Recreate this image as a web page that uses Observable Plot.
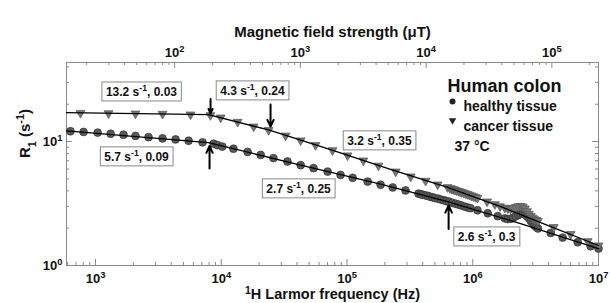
<!DOCTYPE html>
<html><head><meta charset="utf-8">
<script src="https://cdn.jsdelivr.net/npm/d3@7"></script>
<script src="https://cdn.jsdelivr.net/npm/@observablehq/plot@0.6"></script>
<style>
body{margin:0;background:#fff;}
#chart{width:610px;height:303px;overflow:hidden;}
</style></head><body><div id="chart"></div>
<script>
// ---- data ----
const healthyFreq = [632,804,1040,1320,1670,2080,2640,3410,4330,5500,7100,8700,9350,10200,12500,16200,20600,26000,33600,42800,54200,70100,88900,111000,146000,185000,231000,292000,
  370000,385000,400000,420000,440000,460000,480000,500000,530000,560000,590000,620000,650000,690000,730000,770000,810000,860000,910000,960000,
  1090000,1316000,1580000,
  1800000,1900000,2000000,2100000,2200000,2300000,2400000,2500000,2600000,2700000,2800000,2900000,3000000,3100000,3200000,3300000,
  4170000,5190000,6830000,8660000,10000000];
const healthyR1 = [12.1,11.95,11.8,11.55,11.35,11.1,10.85,10.6,10.4,10.15,9.85,9.6,9.35,9.1,8.75,8.25,7.8,7.35,6.9,6.45,6.1,5.72,5.38,5.1,4.75,4.48,4.26,4.03,
  3.80,3.76,3.72,3.68,3.64,3.58,3.55,3.50,3.46,3.40,3.36,3.30,3.27,3.20,3.15,3.10,3.05,2.99,2.94,2.90,
  2.79,2.64,2.50,
  2.40,2.37,2.38,2.43,2.50,2.56,2.60,2.62,2.58,2.50,2.40,2.28,2.18,2.10,2.04,1.99,
  1.83,1.68,1.54,1.43,1.37];

const cancerFreq = [760,1270,2080,3410,5700,8200,9900,13500,18100,23800,32500,42800,56200,76700,101000,135000,178000,244000,321000,422000,526000,631000,
  660000,680000,700000,720000,745000,770000,795000,820000,850000,880000,910000,940000,975000,1010000,1050000,1090000,
  1300000,1500000,1650000,
  1800000,1900000,2000000,2100000,2200000,2300000,2400000,2500000,2600000,2700000,2800000,2900000,3000000,3100000,3200000,3300000,
  4400000,6000000,8200000,10000000];
const cancerR1 = [17.0,16.9,16.8,16.7,16.5,16.3,15.6,14.4,13.2,12.35,11.15,10.2,9.35,8.5,7.72,7.02,6.38,5.72,5.22,4.82,4.5,4.28,
  4.20,4.16,4.11,4.08,4.03,3.99,3.94,3.90,3.85,3.80,3.76,3.71,3.66,3.61,3.56,3.51,
  3.28,3.12,3.00,
  2.92,2.88,2.86,2.90,2.96,3.00,3.02,2.98,2.88,2.74,2.60,2.50,2.42,2.36,2.32,2.28,
  2.04,1.79,1.57,1.45];

const healthyFitFreq = [588,7900,42800,185000,631000,2400000,10000000];
const healthyFitR1   = [12.2,9.8,6.46,4.54,3.28,2.18,1.37];
const cancerFitFreq  = [588,7900,23800,74000,222000,631000,1670000,4170000,10000000];
const cancerFitR1    = [17.1,16.5,12.4,8.6,5.95,4.26,2.99,2.06,1.45];

const annotText = ["13.2 s\u207B\u00B9, 0.03","4.3 s\u207B\u00B9, 0.24","5.7 s\u207B\u00B9, 0.09","3.2 s\u207B\u00B9, 0.35","2.7 s\u207B\u00B9, 0.25","2.6 s\u207B\u00B9, 0.3"];
const annotFreq = [2320,17700,2120,181000,41200,1290000];
const annotR1   = [24.8,25.3,7.43,10.0,4.10,1.68];

const arrowFreq = [8220,24660,8070,642700];
const arrowFromR1 = [22.0,19.9,6.06,1.97];
const arrowToR1   = [16.9,13.2,9.2,3.05];

const xTickHz = [1e3,1e4,1e5,1e6,1e7];
const topTickMicroT = [1e2,1e3,1e4,1e5];
const yTicks = [1,10];
const HZ_PER_MICROT = 42.577;

// ---- layout ----
const W=610,H=303,mL=66,mR=12,mT=62,mB=38;
const pw=W-mL-mR, ph=H-mT-mB;
const xDomain=[588,1e7], yDomain=[1,43.4];

const supDigits="\u2070\u00B9\u00B2\u00B3\u2074\u2075\u2076\u2077\u2078\u2079";
const sup = n => String(n).split("").map(c=>supDigits[+c]).join("");
const pow10 = v => "10"+sup(Math.round(Math.log10(v)));

const xMinor=[], topMinorHz=[], yMinor=[];
for (const d of [100,1000,10000,100000,1000000]) for (let m=2;m<=9;m++){const v=d*m; if(v>=xDomain[0]&&v<=xDomain[1]) xMinor.push(v);}
for (const d of [10,100,1000,10000,100000]) for (let m=2;m<=9;m++){const v=d*m*HZ_PER_MICROT; if(v>=xDomain[0]&&v<=xDomain[1]) topMinorHz.push(v);}
for (const d of [1,10]) for (let m=2;m<=9;m++){const v=d*m; if(v<=yDomain[1]) yMinor.push(v);}
const topMajorHz = topTickMicroT.map(v=>v*HZ_PER_MICROT);

const healthy = healthyFreq.map((f,i)=>({f, r:healthyR1[i]}));
const cancer = cancerFreq.map((f,i)=>({f, r:cancerR1[i]}));
const healthyFit = healthyFitFreq.map((f,i)=>({f, r:healthyFitR1[i]}));
const cancerFit = cancerFitFreq.map((f,i)=>({f, r:cancerFitR1[i]}));
const annots = annotText.map((t,i)=>({t, f:annotFreq[i], r:annotR1[i]}));
const arrows = arrowFreq.map((f,i)=>({f, r1:arrowFromR1[i], r2:arrowToR1[i]}));

const triangleDown = {draw(ctx, size){
  const a=Math.sqrt(4*size/Math.sqrt(3)), h=a*Math.sqrt(3)/2;
  ctx.moveTo(-a/2,-h/3); ctx.lineTo(a/2,-h/3); ctx.lineTo(0,2*h/3); ctx.closePath();
}};

const tickColor="#8a8a8a";
const svg = Plot.plot({
  width:W, height:H, marginLeft:mL, marginRight:mR, marginTop:mT, marginBottom:mB,
  style:{fontFamily:"'Liberation Sans', Arial, sans-serif", fontSize:"13px", color:"#111", background:"#fff"},
  x:{type:"log", domain:xDomain},
  y:{type:"log", domain:yDomain},
  marks:[
    Plot.frame({stroke:tickColor}),
    Plot.ruleX(xMinor,{x:d=>d, insetTop:ph-3, stroke:tickColor}),
    Plot.ruleX(xTickHz,{x:d=>d, insetTop:ph-6, stroke:tickColor}),
    Plot.ruleX(topMinorHz,{x:d=>d, insetBottom:ph-3, stroke:tickColor}),
    Plot.ruleX(topMajorHz,{x:d=>d, insetBottom:ph-6, stroke:tickColor}),
    Plot.ruleY(yMinor,{y:d=>d, insetRight:pw-3, stroke:tickColor}),
    Plot.ruleY(yTicks,{y:d=>d, insetRight:pw-6, stroke:tickColor}),
    Plot.ruleY(yMinor,{y:d=>d, insetLeft:pw-3, stroke:tickColor}),
    Plot.ruleY(yTicks,{y:d=>d, insetLeft:pw-6, stroke:tickColor}),
    Plot.axisX({anchor:"bottom", ticks:xTickHz, tickFormat:pow10, tickSize:0, tickPadding:8, fontSize:13, fontWeight:"bold", label:null}),
    Plot.text(topMajorHz,{x:d=>d, text:d=>pow10(d/HZ_PER_MICROT), frameAnchor:"top", dy:-15, fontSize:13, fontWeight:"bold", fill:"#111"}),
    Plot.axisY({anchor:"left", ticks:yTicks, tickFormat:pow10, tickSize:0, tickPadding:4, fontSize:13, fontWeight:"bold", label:null}),
    Plot.text(["Magnetic field strength (\u03BCT)"],{frameAnchor:"top", dy:-36, fontSize:15, fontWeight:"bold", fill:"#111"}),
    Plot.text(["\u00B9H Larmor frequency (Hz)"],{frameAnchor:"bottom", dy:33, fontSize:14.5, fontWeight:"bold", fill:"#111"}),
    Plot.text(["R\u2081 (s\u207B\u00B9)"],{frameAnchor:"left", dx:-41, dy:-6, rotate:-90, fontSize:15, fontWeight:"bold", fill:"#111"}),
    Plot.dot(healthy,{x:"f", y:"r", r:3.9, fill:"#585858", stroke:"#333", strokeWidth:0.7}),
    Plot.dot(cancer,{x:"f", y:"r", r:3.3, symbol:triangleDown, fill:"#777", stroke:"#555", strokeWidth:0.7}),
    Plot.line(healthyFit,{x:"f", y:"r", stroke:"#000", strokeWidth:1.3}),
    Plot.line(cancerFit,{x:"f", y:"r", stroke:"#000", strokeWidth:1.3}),
    Plot.arrow(arrows,{x:"f", y1:"r1", y2:"r2", stroke:"#000", strokeWidth:2, headLength:7, headAngle:50}),
    Plot.text(annots,{x:"f", y:"r", text:"t", fontSize:12, fontWeight:"bold", fill:"#111"}),
    Plot.text(["Human colon"],{frameAnchor:"top-left", dx:381, dy:17, textAnchor:"start", fontSize:18, fontWeight:"bold", fill:"#111"}),
    Plot.dot([0],{frameAnchor:"top-left", dx:386, dy:39, r:3, fill:"#222"}),
    Plot.text(["healthy tissue"],{frameAnchor:"top-left", dx:397, dy:38.5, textAnchor:"start", fontSize:14, fontWeight:"bold", fill:"#111"}),
    Plot.dot([0],{frameAnchor:"top-left", dx:386, dy:58, r:2.8, symbol:triangleDown, fill:"#222"}),
    Plot.text(["cancer tissue"],{frameAnchor:"top-left", dx:397, dy:58.5, textAnchor:"start", fontSize:14, fontWeight:"bold", fill:"#111"}),
    Plot.text(["37 \u00B0C"],{frameAnchor:"top-left", dx:388, dy:79, textAnchor:"start", fontSize:14, fontWeight:"bold", fill:"#111"})
  ]
});
document.getElementById("chart").append(svg);

// rich text: turn unicode super/subscripts into tspans
const NS="http://www.w3.org/2000/svg";
const SUP={"\u2070":"0","\u00B9":"1","\u00B2":"2","\u00B3":"3","\u2074":"4","\u2075":"5","\u2076":"6","\u2077":"7","\u2078":"8","\u2079":"9","\u207B":"-"};
const SUB={"\u2081":"1"};
const kindOf=c=>SUP[c]!==undefined?"sup":SUB[c]!==undefined?"sub":"n";
svg.querySelectorAll("text").forEach(t=>{
  if (t.querySelector("tspan")) return;
  const chars=[...t.textContent];
  if (!chars.some(c=>kindOf(c)!=="n")) return;
  t.textContent="";
  let i=0;
  while(i<chars.length){
    const k=kindOf(chars[i]); let buf="";
    while(i<chars.length && kindOf(chars[i])===k){const c=chars[i]; buf+= k==="sup"?SUP[c]:k==="sub"?SUB[c]:c; i++;}
    const ts=document.createElementNS(NS,"tspan"); ts.textContent=buf;
    if(k!=="n"){ts.setAttribute("font-size","72%"); ts.setAttribute("baseline-shift",k==="sup"?"super":"sub");}
    t.appendChild(ts);
  }
});

// boxes around annotation labels
const annotPlain = annotText.map(s=>[...s].map(c=>SUP[c]!==undefined?SUP[c]:c).join(""));
svg.querySelectorAll("text").forEach(t=>{
  if(!annotPlain.includes(t.textContent)) return;
  const b=t.getBBox();
  const r=document.createElementNS(NS,"rect");
  r.setAttribute("x",b.x-4); r.setAttribute("y",b.y-1.5);
  r.setAttribute("width",b.width+8); r.setAttribute("height",b.height+3);
  r.setAttribute("fill","#fff"); r.setAttribute("stroke","#888"); r.setAttribute("stroke-width","1");
  const tr=t.getAttribute("transform"); if(tr) r.setAttribute("transform",tr);
  t.parentNode.insertBefore(r,t);
});
</script>
</body></html>
